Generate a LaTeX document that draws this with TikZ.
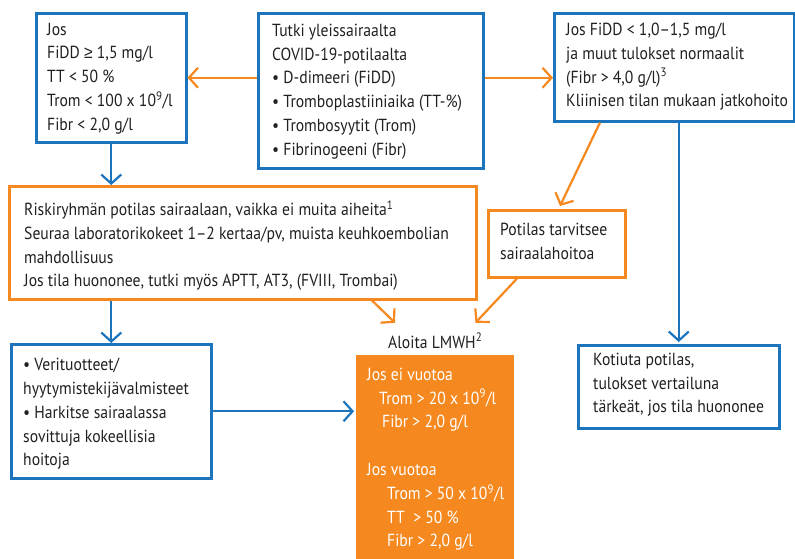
\documentclass[tikz,border=0pt]{standalone}
\usepackage{fontspec}
\setmainfont{PT Sans}[FakeStretch=0.895]
\newfontfamily\symfont{Liberation Sans}[FakeStretch=0.895]
\usetikzlibrary{arrows.meta,calc}
\definecolor{cblue}{HTML}{1C75BC}
\definecolor{corange}{HTML}{F5891F}
\definecolor{ctext}{HTML}{231F20}
\begin{document}
\begin{tikzpicture}[x=1pt,y=-1pt,
  every node/.style={font=\fontsize{17.5}{23.7}\selectfont, text=ctext},
  box/.style={draw, line width=2.5pt, anchor=north west, inner sep=0pt},
  bbox/.style={box, draw=cblue},
  obox/.style={box, draw=corange},
  txt/.style={anchor=base west, inner sep=0pt, align=left},
  barrow/.style={draw=cblue, line width=2.2pt, -{Straight Barb[length=9pt,width=20pt]}},
  oarrow/.style={draw=corange, line width=2.2pt, -{Straight Barb[length=9pt,width=20pt]}}
]
\useasboundingbox (0,0) rectangle (795,558);
% boxes
\node[bbox, minimum width=150pt, minimum height=129pt] (b1) at (35,12) {};
\node[txt] (t1) at (47,130)
 {Jos\\FiDD {\symfont ≥} 1,5 mg/l\\TT < 50 \%\\Trom < 100 x 10\textsuperscript{9}/l\\Fibr < 2,0 g/l};
\node[bbox, minimum width=225pt, minimum height=155pt] (b2) at (257,12) {};
\node[txt] (t2) at (272,155)
 {Tutki yleissairaalta\\COVID-19-potilaalta\\• D-dimeeri (FiDD)\\• Tromboplastiiniaika (TT-\%)\\• Trombosyytit (Trom)\\• Fibrinogeeni (Fibr)};
\node[bbox, minimum width=240pt, minimum height=108pt] (b3) at (553,12) {};
\node[txt] (t3) at (566,106.7)
 {Jos FiDD < 1,0–1,5 mg/l\\ja muut tulokset normaalit\\(Fibr > 4,0 g/l)\textsuperscript{3}\\Kliinisen tilan mukaan jatkohoito};
\node[obox, minimum width=467pt, minimum height=113pt] (b4) at (8,185) {};
\node[txt] (t4) at (24,286.7)
 {Riskiryhmän potilas sairaalaan, vaikka ei muita aiheita\textsuperscript{1}\\Seuraa laboratorikokeet 1–2 kertaa/pv, muista keuhkoembolian\\mahdollisuus\\Jos tila huononee, tutki myös APTT, AT3, (FVIII, Trombai)};
\node[obox, minimum width=137pt, minimum height=67pt] (b5) at (487,209) {};
\node[txt] (t5) at (500,259.3) {Potilas tarvitsee\\sairaalahoitoa};
\node[bbox, minimum width=200pt, minimum height=134pt] (b6) at (10,343) {};
\node[txt] (t6) at (23,465.7)
 {• Verituotteet/\\hyytymistekijävalmisteet\\• Harkitse sairaalassa\\sovittuja kokeellisia\\hoitoja};
\node[bbox, minimum width=201pt, minimum height=83pt] (b7) at (577,344) {};
\node[txt] (t7) at (593,412.7)
 {Kotiuta potilas,\\tulokset vertailuna\\tärkeät, jos tila huononee};
\node[txt] (al) at (388,348) {Aloita LMWH\textsuperscript{2}};
\node[fill=corange, anchor=north west, minimum width=158pt, minimum height=206pt, inner sep=0pt] (ob) at (356,355) {};
\node[txt, text=white] (ot) at (367,546.7)
 {Jos ei vuotoa\\\hspace*{12pt}Trom > 20 x 10\textsuperscript{9}/l\\\hspace*{15pt}Fibr > 2,0 g/l\\[24pt]Jos vuotoa\\\hspace*{20pt}Trom > 50 x 10\textsuperscript{9}/l\\\hspace*{20pt}TT\ \ > 50 \%\\\hspace*{20pt}Fibr > 2,0 g/l};
% connectors
\draw[oarrow] (b2.west |- b1.east) -- (b1.east);
\draw[oarrow] (b2.east |- b1.east) -- (b3.west |- b1.east);
\draw[barrow] (b1.south) -- (b4.north -| b1.south);
\draw[barrow] (b4.south -| b1.south) -- (b6.north -| b1.south);
\draw[oarrow] ([xshift=47pt]b3.south west) -- ([xshift=73pt,yshift=3pt]b5.north west);
\draw[oarrow] ([xshift=364pt]b4.south west) -- ([xshift=7pt,yshift=10pt]al.north west);
\draw[oarrow] ([xshift=30pt]b5.south west) -- ([xshift=-7pt,yshift=10pt]al.north east);
\draw[barrow] (b6.east) -- ([xshift=-2pt]ob.west |- b6.east);
\draw[barrow] (b7.north |- b3.south) -- ([yshift=2pt]b7.north);
\end{tikzpicture}
\end{document}
